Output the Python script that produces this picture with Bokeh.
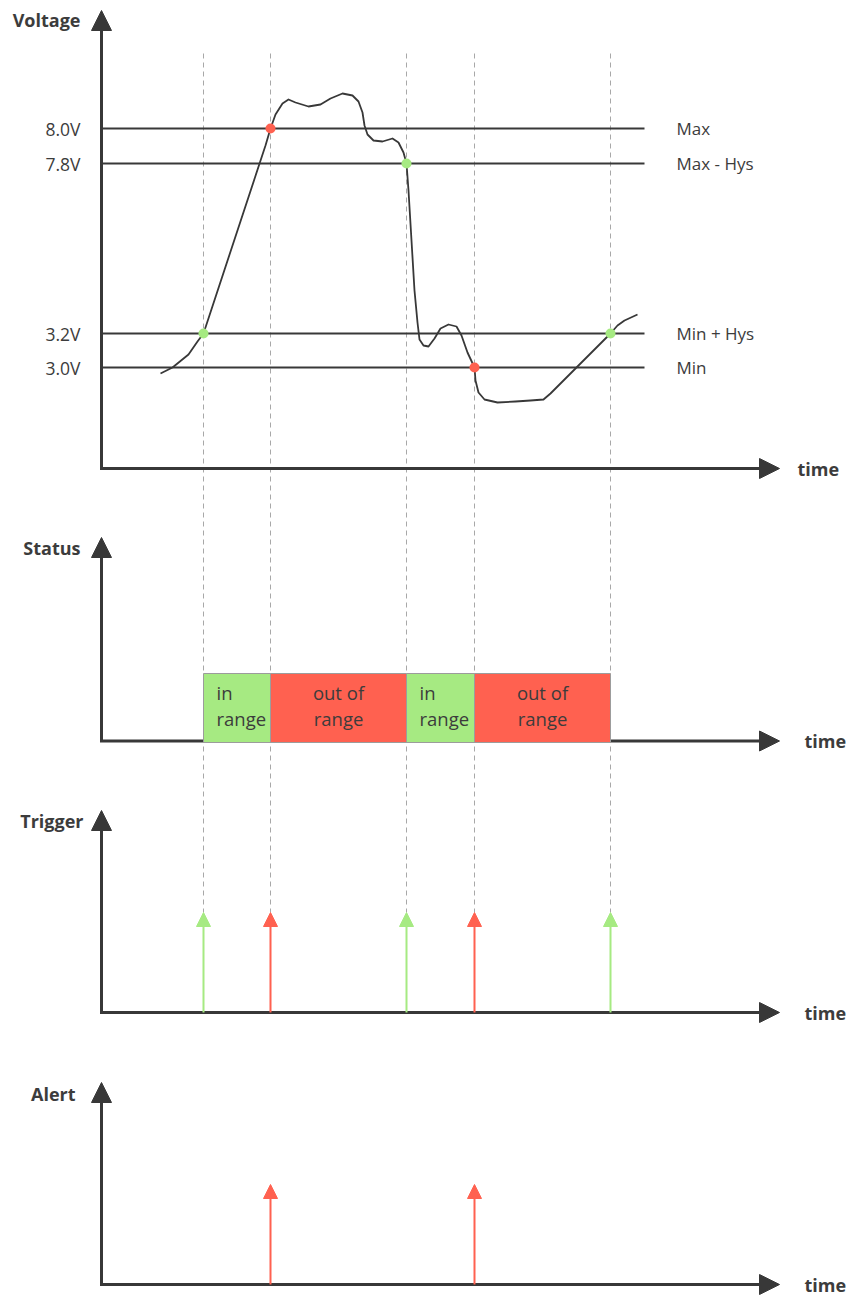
import numpy as np
from bokeh.plotting import figure
from bokeh.models import Range1d, ColumnDataSource, Arrow, NormalHead
from bokeh.core.properties import value
from bokeh.embed import file_html
from bokeh.resources import INLINE

# ---------------- data ----------------
# switching events on the time axis (ms, arbitrary schematic time)
event_t = [102, 169, 305, 373, 509]
event_state = ["in", "out", "in", "out", "in"]
event_threshold = ["3.2V", "8.0V", "7.8V", "3.0V", "3.2V"]

# thresholds on the (schematic) voltage axis
thr_labels = ["8.0V", "7.8V", "3.2V", "3.0V"]
thr_names = ["Max", "Max - Hys", "Min + Hys", "Min"]
thr_levels = [340, 305, 135, 101]

# measured voltage curve (time, schematic level)
volt_t = [59, 71, 87, 96, 102, 164, 169, 174, 181, 187, 194, 207, 219, 229, 241,
          251, 257, 261, 263, 266, 272, 281, 291, 297, 302, 305, 307, 310, 313,
          316, 318, 322, 327, 333, 339, 347, 355, 360, 366, 373, 374, 377, 383,
          396, 414, 429, 442, 449, 469, 489, 509, 516, 523, 536]
volt_level = [95, 101, 114, 127, 135, 323, 340, 354, 365, 369, 366, 362, 364, 370,
              375, 373, 367, 356, 343, 334, 328, 327, 330, 326, 316, 305, 278, 228,
              178, 146, 129, 123, 122, 130, 140, 144, 142, 133, 116, 101, 88, 76,
              69, 66, 67, 68, 69, 75, 95, 115, 135, 143, 148, 154]

status_text = {"in": ["in", "range"], "out": ["out of", "range"]}
alert_states = ["out"]

# ---------------- style / layout ----------------
GREEN = "#a6ea82"
RED = "#ff6150"
INK = "#383838"
TXT = "#3c3c3c"
DASH = "#a8a8a8"
FONT = value("Open Sans")
STATE_COLOR = {"in": GREEN, "out": RED}

W, H = 849, 1301
PAGE_TOP, PAGE_BOTTOM = 0, H
X0 = 101  # page x of the time origin

PANELS = {
    "volt":   dict(base=468, unit=1.0, axis_y=468, top=10, label="Voltage", label_x=80, label_y=19, time_x=797),
    "status": dict(base=742, unit=69.0, axis_y=740.5, top=537, label="Status", label_x=80, label_y=547, time_x=804),
    "trig":   dict(base=1012, unit=100.0, axis_y=1012, top=810, label="Trigger", label_x=83, label_y=820, time_x=804),
    "alert":  dict(base=1284, unit=100.0, axis_y=1284, top=1082, label="Alert", label_x=75, label_y=1093, time_x=804),
}
AXIS_END = 779  # page x of horizontal arrow tips
HEAD = 20

p = figure(width=W, height=H,
           x_range=Range1d(0 - X0, W - X0),
           y_range=Range1d(PAGE_BOTTOM, PAGE_TOP),
           x_axis_location=None, y_axis_location=None,
           output_backend="svg", toolbar_location=None, min_border=0)
p.grid.visible = False
p.outline_line_color = None
p.background_fill_color = "white"

for name, c in PANELS.items():
    p.extra_y_ranges[name] = Range1d(start=(c["base"] - PAGE_BOTTOM) / c["unit"],
                                     end=(c["base"] - PAGE_TOP) / c["unit"])

# dashed guide lines (from top of voltage panel down to trigger arrow tips)
trig_tip_page = PANELS["trig"]["base"] - PANELS["trig"]["unit"]
p.segment(x0=event_t, y0=[53] * len(event_t), x1=event_t, y1=[trig_tip_page] * len(event_t),
          line_color=DASH, line_width=1, line_dash="5 4")

# axes with arrow heads
xe = AXIS_END - X0
for name, c in PANELS.items():
    ay, top = c["axis_y"], c["top"]
    p.line(x=[0, 0, xe - HEAD], y=[top + HEAD, ay, ay], line_color=INK, line_width=3,
           line_join="miter")
    p.patches(xs=[[-HEAD / 2, HEAD / 2, 0], [xe - HEAD, xe - HEAD, xe]],
              ys=[[top + HEAD, top + HEAD, top], [ay - HEAD / 2, ay + HEAD / 2, ay]],
              fill_color=INK, line_color=INK, line_width=1)
    p.text(x=[c["label_x"] - X0], y=[c["label_y"]], text=[c["label"]], text_font=FONT,
           text_font_style="bold", text_font_size="18px", text_color=TXT,
           text_align="right", text_baseline="middle")
    p.text(x=[c["time_x"] - X0], y=[ay], text=["time"], text_font=FONT,
           text_font_style="bold", text_font_size="18px", text_color=TXT,
           text_align="left", text_baseline="middle")

# ---- voltage panel ----
p.segment(x0=[0] * 4, x1=[543] * 4, y0=thr_levels, y1=thr_levels, y_range_name="volt",
          line_color=INK, line_width=2)
p.text(x=[-21] * 4, y=thr_levels, text=thr_labels, y_range_name="volt", text_font=FONT,
       text_font_size="17.5px", text_color=TXT, text_align="right", text_baseline="middle")
p.text(x=[575] * 4, y=thr_levels, text=thr_names, y_range_name="volt", text_font=FONT,
       text_font_size="17px", text_color=TXT, text_align="left", text_baseline="middle")
p.line(x=volt_t, y=volt_level, y_range_name="volt", line_color=INK, line_width=1.8,
       line_join="round")
lvl = dict(zip(thr_labels, thr_levels))
p.scatter(x=event_t, y=[lvl[k] for k in event_threshold], y_range_name="volt", size=10,
          fill_color=[STATE_COLOR[s] for s in event_state], line_color=None)

# ---- status panel ----
seg_l = event_t[:-1]
seg_r = event_t[1:]
seg_s = event_state[:-1]
p.quad(left=seg_l, right=seg_r, bottom=[0] * len(seg_l), top=[1] * len(seg_l),
       y_range_name="status", fill_color=[STATE_COLOR[s] for s in seg_s],
       line_color="#9c9c9c", line_width=1)
for l, r, s in zip(seg_l, seg_r, seg_s):
    l1, l2 = status_text[s]
    if s == "in":
        xs, al = l + 13, "left"
    else:
        xs, al = (l + r) / 2, "center"
    p.text(x=[xs, xs], y=[0.72, 0.35], text=[l1, l2], y_range_name="status",
           text_font=FONT, text_font_size="18.5px", text_color=TXT, text_align=al,
           text_baseline="middle")

# ---- trigger & alert panels ----
def add_arrows(ts, color, rng, size):
    src = ColumnDataSource(dict(t=ts, y0=[0] * len(ts), y1=[1] * len(ts)))
    p.add_layout(Arrow(end=NormalHead(size=size, fill_color=color, line_color=color, line_width=1),
                       x_start="t", y_start="y0", x_end="t", y_end="y1", source=src,
                       line_color=color, line_width=2, y_range_name=rng))

for s in ["in", "out"]:
    ts = [t for t, st in zip(event_t, event_state) if st == s]
    add_arrows(ts, STATE_COLOR[s], "trig", 14)
alert_t = [t for t, st in zip(event_t, event_state) if st in alert_states]
add_arrows(alert_t, RED, "alert", 14)

open("out.html", "w").write(file_html(p, INLINE))
